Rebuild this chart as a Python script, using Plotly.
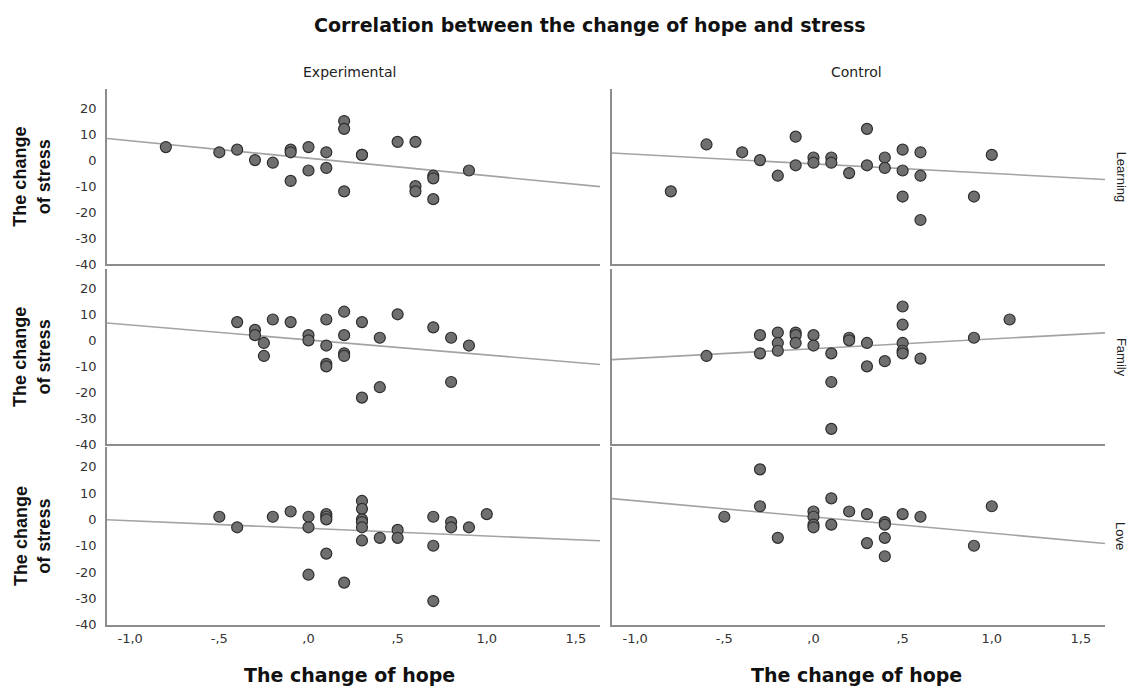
import numpy as np
import plotly.graph_objects as go

# ---------------- data ----------------
groups = ["Experimental", "Control"]
domains_rows = ["Learning", "Family", "Love"]

x_tick_vals = [-1.0, -0.5, 0.0, 0.5, 1.0, 1.5]
x_tick_text = ["-1,0", "-,5", ",0", ",5", "1,0", "1,5"]
y_tick_vals = [-40, -30, -20, -10, 0, 10, 20]
y_tick_text = ["-40", "-30", "-20", "-10", "0", "10", "20"]

exp_learning_hope = [-0.8, -0.5, -0.4, -0.3, -0.2, -0.1, -0.1, -0.1, 0.0, 0.0, 0.1, 0.1, 0.2, 0.2, 0.2,
                     0.3, 0.3, 0.5, 0.6, 0.6, 0.6, 0.7, 0.7, 0.7, 0.9]
exp_learning_stress = [5, 3, 4, 0, -1, 4, 3, -8, 5, -4, 3, -3, 15, 12, -12,
                       2, 2, 7, 7, -10, -12, -6, -7, -15, -4]

ctl_learning_hope = [-0.8, -0.6, -0.4, -0.3, -0.2, -0.1, -0.1, 0.0, 0.0, 0.1, 0.1, 0.2, 0.3, 0.3,
                     0.4, 0.4, 0.5, 0.5, 0.5, 0.6, 0.6, 0.6, 0.9, 1.0]
ctl_learning_stress = [-12, 6, 3, 0, -6, 9, -2, 1, -1, 1, -1, -5, 12, -2,
                       1, -3, 4, -4, -14, 3, -6, -23, -14, 2]

exp_family_hope = [-0.4, -0.3, -0.3, -0.25, -0.25, -0.2, -0.1, 0.0, 0.0, 0.1, 0.1, 0.1, 0.1,
                   0.2, 0.2, 0.2, 0.2, 0.3, 0.3, 0.4, 0.4, 0.5, 0.7, 0.8, 0.8, 0.9]
exp_family_stress = [7, 4, 2, -1, -6, 8, 7, 2, 0, 8, -2, -9, -10,
                     11, 2, -5, -6, 7, -22, 1, -18, 10, 5, 1, -16, -2]

ctl_family_hope = [-0.6, -0.3, -0.3, -0.2, -0.2, -0.2, -0.1, -0.1, -0.1, 0.0, 0.0, 0.1, 0.1, 0.1,
                   0.2, 0.2, 0.3, 0.3, 0.4, 0.5, 0.5, 0.5, 0.5, 0.5, 0.6, 0.9, 1.1]
ctl_family_stress = [-6, 2, -5, 3, -1, -4, 3, 2, -1, 2, -2, -5, -16, -34,
                     1, 0, -1, -10, -8, 13, 6, -1, -4, -5, -7, 1, 8]

exp_love_hope = [-0.5, -0.4, -0.2, -0.1, 0.0, 0.0, 0.0, 0.1, 0.1, 0.1, 0.1, 0.2,
                 0.3, 0.3, 0.3, 0.3, 0.3, 0.3, 0.4, 0.5, 0.5, 0.7, 0.7, 0.7, 0.8, 0.8, 0.9, 1.0]
exp_love_stress = [1, -3, 1, 3, 1, -3, -21, 2, 1, 0, -13, -24,
                   7, 4, 0, -1, -3, -8, -7, -4, -7, 1, -10, -31, -1, -3, -3, 2]

ctl_love_hope = [-0.5, -0.3, -0.3, -0.2, 0.0, 0.0, 0.0, 0.0, 0.1, 0.1, 0.2, 0.3, 0.3,
                 0.4, 0.4, 0.4, 0.4, 0.5, 0.6, 0.9, 1.0]
ctl_love_stress = [1, 19, 5, -7, 3, 1, -2, -3, 8, -2, 3, 2, -9,
                   -1, -2, -7, -14, 2, 1, -10, 5]

panels = [
    [(exp_learning_hope, exp_learning_stress), (ctl_learning_hope, ctl_learning_stress)],
    [(exp_family_hope, exp_family_stress), (ctl_family_hope, ctl_family_stress)],
    [(exp_love_hope, exp_love_stress), (ctl_love_hope, ctl_love_stress)],
]

# ---------------- layout geometry ----------------
OFF = 8  # page body margin
W, H = 1137 - 2 * OFF, 694 - OFF
YS, YB = 0.987, 1.2  # empirical vertical correction


def fx(px):
    return (px - OFF) / W


def fy(py):
    return 1 - ((py - YB) / YS - OFF) / H


x_range = [-1.13, 1.635]
y_range = [-40, 27.3]
xpix = [(107, 600), (612, 1105)]
ypix = [(90, 265), (270, 445), (448, 625)]
xdom = [[fx(a), fx(b)] for (a, b) in xpix]
ydom = [[fy(b), fy(t)] for (t, b) in ypix]

TICKFONT = "DejaVu Sans, Verdana, sans-serif"
WIDEFONT = "DejaVu Sans, Verdana, sans-serif"
VFONT = "Liberation Sans, Arial, sans-serif"
axis_col = "#8c8c8c"

fig = go.Figure()
layout = dict(
    width=W, height=H,
    margin=dict(l=0, r=0, t=0, b=0),
    paper_bgcolor="white", plot_bgcolor="white",
    showlegend=False,
    font=dict(family=TICKFONT, color="#222"),
)

for r in range(3):
    for c in range(2):
        idx = r * 2 + c + 1
        xa = "x" if idx == 1 else f"x{idx}"
        ya = "y" if idx == 1 else f"y{idx}"
        hx, sy = panels[r][c]
        hx_arr = np.array(hx, dtype=float)
        sy_arr = np.array(sy, dtype=float)
        slope, inter = np.polyfit(hx_arr, sy_arr, 1)
        lx = np.array(x_range)
        fig.add_trace(go.Scatter(
            x=lx, y=inter + slope * lx, mode="lines",
            line=dict(color="#a3a3a3", width=1.6),
            xaxis=xa, yaxis=ya, hoverinfo="skip"))
        fig.add_trace(go.Scatter(
            x=hx, y=sy, mode="markers",
            marker=dict(size=11, color="#6f6f6f",
                        line=dict(color="#2e2e2e", width=1.2)),
            xaxis=xa, yaxis=ya))
        xkey = "xaxis" if idx == 1 else f"xaxis{idx}"
        ykey = "yaxis" if idx == 1 else f"yaxis{idx}"
        layout[xkey] = dict(
            domain=xdom[c], range=x_range, anchor=ya,
            showgrid=False, zeroline=False,
            showline=True, linecolor=axis_col, linewidth=1.5,
            tickmode="array", tickvals=x_tick_vals, ticktext=x_tick_text,
            showticklabels=(r == 2),
            ticks="outside" if r == 2 else "", ticklen=1, tickcolor="rgba(0,0,0,0)",
            tickfont=dict(size=13, color="#333", family=TICKFONT),
            fixedrange=True,
        )
        layout[ykey] = dict(
            domain=ydom[r], range=y_range, anchor=xa,
            showgrid=False, zeroline=False,
            showline=True, linecolor=axis_col, linewidth=1.5,
            tickmode="array", tickvals=y_tick_vals, ticktext=y_tick_text,
            showticklabels=(c == 0),
            ticks="outside" if c == 0 else "", ticklen=6, tickcolor="rgba(0,0,0,0)",
            tickfont=dict(size=13, color="#333", family=TICKFONT),
            fixedrange=True,
        )

annotations = []
# main title
annotations.append(dict(
    text="<b>Correlation between the change of hope and stress</b>",
    x=fx(590), y=fy(26), xref="paper", yref="paper",
    xanchor="center", yanchor="middle",
    showarrow=False, font=dict(size=19, color="#111", family=WIDEFONT)))
# column headers and x titles
header_x = [349, 856]
for c, g in enumerate(groups):
    annotations.append(dict(
        text=g, x=fx(header_x[c]), y=fy(73),
        xref="paper", yref="paper", showarrow=False,
        xanchor="center", yanchor="middle",
        font=dict(size=14, color="#222", family=WIDEFONT)))
    annotations.append(dict(
        text="<b>The change of hope</b>", x=fx(header_x[c]), y=fy(675),
        xref="paper", yref="paper", showarrow=False,
        xanchor="center", yanchor="middle",
        font=dict(size=19, color="#111", family=WIDEFONT)))
# row labels and y titles
for r, name in enumerate(domains_rows):
    yc_px = (ypix[r][0] + ypix[r][1]) / 2
    annotations.append(dict(
        text=name, x=fx(1121), y=fy(yc_px), xref="paper", yref="paper",
        showarrow=False, textangle=90, xanchor="center", yanchor="middle",
        font=dict(size=13, color="#222", family=VFONT)))
    annotations.append(dict(
        text="<b>The change<br>of stress</b>", x=fx(32), y=fy(yc_px),
        xref="paper", yref="paper", showarrow=False, textangle=-90,
        xanchor="center", yanchor="middle",
        font=dict(size=18, color="#111", family=VFONT)))

layout["annotations"] = annotations
fig.update_layout(**layout)
fig.write_html("out.html")
